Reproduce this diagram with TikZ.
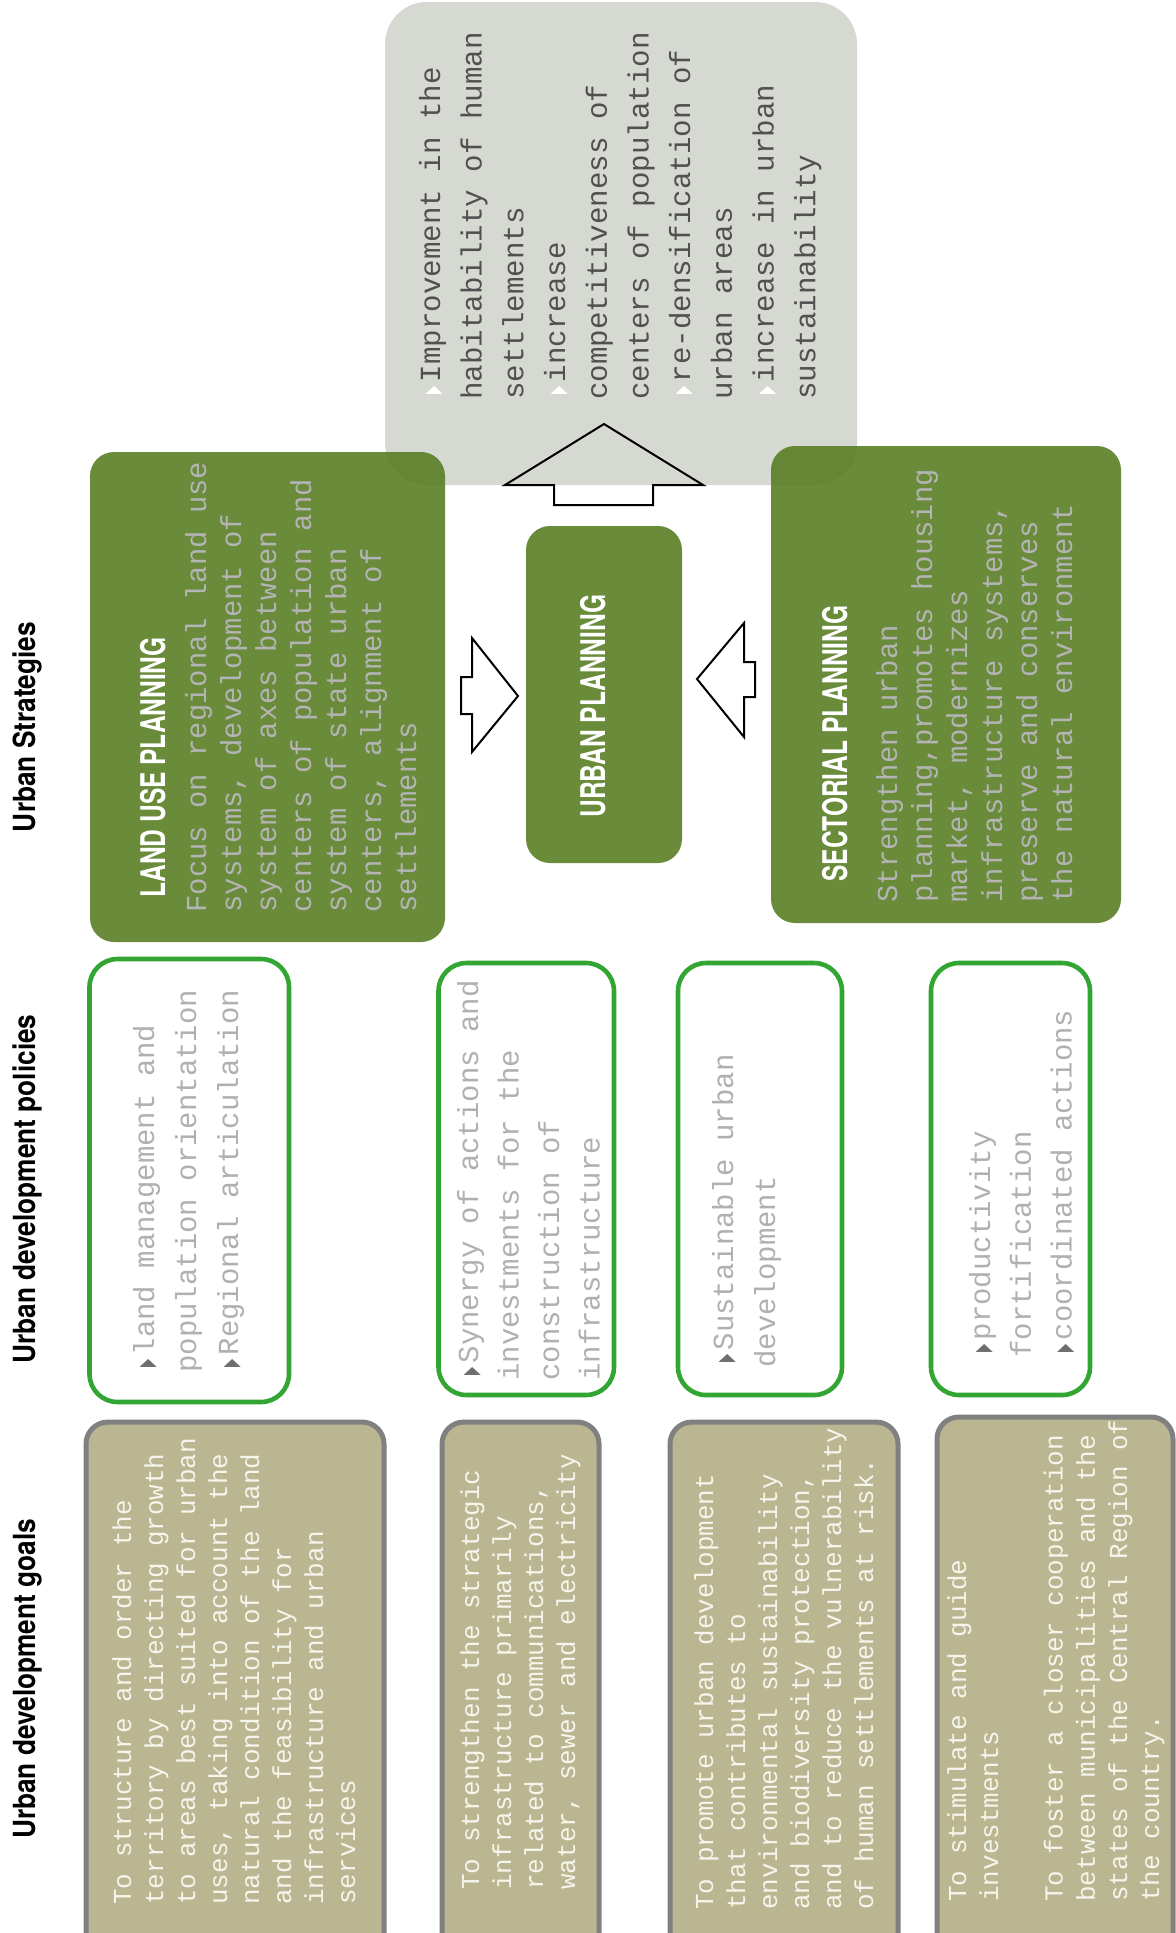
\documentclass[tikz,border=0pt]{standalone}
\usepackage{fontspec}
\usepackage{graphicx}
\setmonofont{Liberation Mono}
\newfontfamily\titlefont{TeX Gyre Heros}[FakeStretch=0.72]
\newfontfamily\headfont{TeX Gyre Heros}[FakeStretch=0.86]
\newfontfamily\symfont{DejaVu Sans}
\usetikzlibrary{fit}

\definecolor{stratgreen}{RGB}{89,127,37}
\definecolor{graybox}{RGB}{214,217,210}
\definecolor{graytext}{RGB}{80,80,80}
\definecolor{polgreen}{RGB}{50,165,50}
\definecolor{poltext}{RGB}{176,176,176}
\definecolor{polbullet}{RGB}{110,110,110}
\definecolor{tanfill}{RGB}{185,182,145}
\definecolor{tanborder}{RGB}{128,128,128}
\definecolor{goaltext}{RGB}{246,245,236}
\definecolor{strattext}{RGB}{180,180,180}

\newcommand\bul[1]{\makebox[0.6em][c]{\textcolor{#1}{\resizebox{0.28em}{0.5em}{\symfont\char"25B6}}}}

\tikzset{
  graypanel/.style={fill=graybox, rounded corners=21pt, inner sep=0pt},
  stratbox/.style={fill=stratgreen, fill opacity=0.9, rounded corners=12pt, inner sep=0pt},
  polbox/.style={draw=polgreen, line width=2.3pt, rounded corners=14pt, inner sep=0pt},
  goalbox/.style={fill=tanfill, draw=tanborder, line width=2.5pt, rounded corners=11pt, inner sep=0pt},
  txt/.style={rotate=90, anchor=base west, inner sep=0pt, text width=400pt,
    execute at begin node={\spaceskip=0.6em plus 0pt minus 0pt\xspaceskip=0.6em plus 0pt minus 0pt\relax}},
  stxt/.style={txt, text=strattext, font=\ttfamily\fontsize{14.45}{17.5}\selectfont},
  ptxt/.style={txt, text=poltext, font=\ttfamily\fontsize{14.5}{20.4}\selectfont},
  gtxt/.style={txt, text=goaltext, font=\ttfamily\fontsize{12.96}{16}\selectfont},
  boxtitle/.style={rotate=90, anchor=base west, inner sep=0pt, text=white, font=\titlefont\bfseries\fontsize{17}{20}\selectfont},
  heading/.style={rotate=90, anchor=base, inner sep=0pt, font=\headfont\bfseries\fontsize{15.25}{18}\selectfont},
  blockarrow/.style={draw=black, line width=1pt, line join=miter}
}

\begin{document}
\begin{tikzpicture}[x=0.5pt,y=-0.5pt]
\useasboundingbox (0,0) rectangle (1176,1933);
\fill[white] (0,0) rectangle (1176,1933);

% headings
\node[heading] (hstrat) at (35,727) {Urban Strategies};
\node[heading] (hpol) at (35,1189) {Urban development policies};
\node[heading] (hgoal) at (35,1679) {Urban development goals};

% outcome panel
\node[graypanel, fit={(385,2) (857,485)}] (outcome) {};
\node[txt, text=graytext, font=\ttfamily\fontsize{14.58}{20.85}\selectfont] (outtxt) at (440,400)
 {\bul{white}Improvement in the\\habitability of human\\settlements\\\bul{white}increase\\competitiveness of\\centers of population\\\bul{white}re-densification of\\urban areas\\\bul{white}increase in urban\\sustainability};

% up arrow
\draw[blockarrow] (604,424) -- (703,485) -- (653,485) -- (653,505) -- (554,505) -- (554,485) -- (505,485) -- cycle;

% strategy boxes
\node[stratbox, fit={(90,452) (445,942)}] (landuse) {};
\node[boxtitle] (lutitle) at (165,898) {LAND USE PLANNING};
\node[stxt] (lutxt) at (206,913)
 {Focus on regional land use\\systems, development of\\system of axes between\\centers of population and\\system of state urban\\centers, alignment of\\settlements};

\node[stratbox, fit={(771,446) (1121,923)}] (sector) {};
\node[boxtitle] (sptitle) at (847,882) {SECTORIAL PLANNING};
\node[stxt] (sptxt) at (897,903)
 {Strengthen urban\\planning,promotes housing\\market, modernizes\\infrastructure systems,\\preserve and conserves\\the natural environment};

\node[stratbox, fit={(526,526) (682,863)}] (urban) {};
\node[boxtitle] (uptitle) at (605,818) {URBAN PLANNING};

% side arrows
\draw[blockarrow] (518,696) -- (472,752) -- (472,714) -- (461,714) -- (461,677) -- (472,677) -- (472,638) -- cycle;
\draw[blockarrow] (697,679) -- (744,623) -- (744,662) -- (755,662) -- (755,697) -- (744,697) -- (744,737) -- cycle;

% policies
\node[polbox, fit={(89.5,959) (289,1402)}] (pol1) {};
\node[ptxt, font=\ttfamily\fontsize{14.5}{21}\selectfont] (pol1txt) at (154,1373)
 {\bul{polbullet}land management and\\population orientation\\\bul{polbullet}Regional articulation};
\node[polbox, fit={(438.5,963) (614,1395)}] (pol2) {};
\node[ptxt, font=\ttfamily\fontsize{14.5}{20.25}\selectfont] (pol2txt) at (478,1381)
 {\bul{polbullet}Synergy of actions and\\investments for the\\construction of\\infrastructure};
\node[polbox, fit={(678,963) (842,1395)}] (pol3) {};
\node[ptxt, font=\ttfamily\fontsize{14.5}{21}\selectfont] (pol3txt) at (733,1368)
 {\bul{polbullet}Sustainable urban\\development};
\node[polbox, fit={(931,963) (1090,1395)}] (pol4) {};
\node[ptxt] (pol4txt) at (990,1358)
 {\bul{polbullet}productivity\\fortification\\\bul{polbullet}coordinated actions};

% goals
\node[goalbox, fit={(86,1422) (384,1970)}] (goal1) {};
\node[gtxt] (goal1txt) at (131,1905)
 {To structure and order the\\territory by directing growth\\to areas best suited for urban\\uses, taking into account the\\natural condition of the land\\and the feasibility for\\infrastructure and urban\\services};
\node[goalbox, fit={(442,1422) (599,1970)}] (goal2) {};
\node[gtxt] (goal2txt) at (479,1890)
 {To strengthen the strategic\\infrastructure primarily\\related to communications,\\water, sewer and electricity};
\node[goalbox, fit={(670,1422) (898,1970)}] (goal3) {};
\node[gtxt] (goal3txt) at (713,1910)
 {To promote urban development\\that contributes to\\environmental sustainability\\and biodiversity protection,\\and to reduce the vulnerability\\of human settlements at risk.};
\node[goalbox, fit={(937,1417) (1173,1970)}] (goal4) {};
\node[gtxt, font=\ttfamily\fontsize{12.96}{16.1}\selectfont] (goal4txt) at (966,1902)
 {To stimulate and guide\\investments\\[16.1pt]To foster a closer cooperation\\between municipalities and the\\states of the Central Region of\\the country.};
\end{tikzpicture}
\end{document}
